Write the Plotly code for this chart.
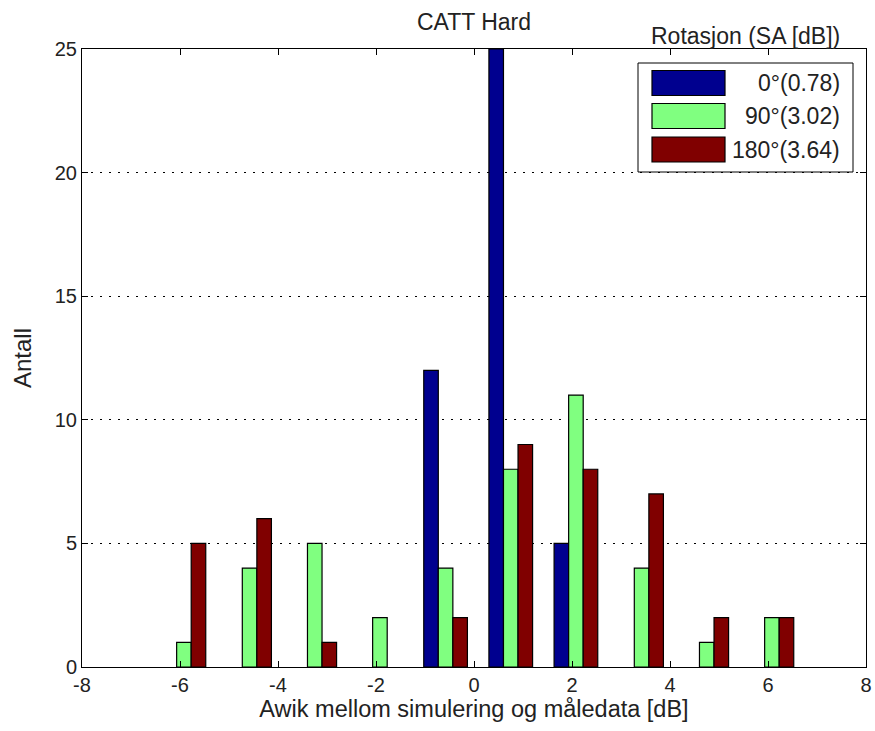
import plotly.graph_objects as go

# bin centres (dB) and counts per rotation
bin_centers = [-5.92, -4.58, -3.25, -1.92, -0.58, 0.75, 2.08, 3.42, 4.75, 6.08]
count_0 = [0, 0, 0, 0, 12, 25, 5, 0, 0, 0]
count_90 = [1, 4, 5, 2, 4, 8, 11, 4, 1, 2]
count_180 = [5, 6, 1, 0, 2, 9, 8, 7, 2, 2]

series_names = ["0°(0.78)", "90°(3.02)", "180°(3.64)"]
series_colors = ["#00008F", "#80FF80", "#800000"]

x_ticks = [-8, -6, -4, -2, 0, 2, 4, 6, 8]
x_tick_labels = ["-8", "-6", "-4", "-2", "0", "2", "4", "6", "8"]

FONT = "Liberation Sans, Arial, sans-serif"
TXT = "#222"
W, H = 875, 731
L, R, T, B = 82, 866, 49, 667  # plot area in pixels


def px_x(p):
    return (p - L) / (R - L)


def px_y(p):
    return (B - p) / (B - T)


fig = go.Figure()
for name, vals, col in zip(series_names, [count_0, count_90, count_180], series_colors):
    # empty bins are not drawn (no outline at zero)
    fig.add_trace(go.Bar(
        x=bin_centers, y=[v if v else None for v in vals], name=name,
        marker=dict(color=col, line=dict(color="black", width=1.2)),
        showlegend=False,
    ))

axis_common = dict(
    showline=True, linecolor="black", linewidth=1, mirror="ticks",
    ticks="inside", ticklen=6, tickcolor="black",
    tickfont=dict(family=FONT, size=20, color=TXT),
    zeroline=False, automargin=False,
)

fig.update_layout(
    width=W, height=H,
    margin=dict(l=L, r=W - R, t=T, b=H - B),
    paper_bgcolor="white", plot_bgcolor="white",
    barmode="group", bargap=0.33, bargroupgap=0,
    font=dict(family=FONT, size=23, color=TXT),
    title=dict(text="CATT Hard", x=0.5, xref="paper", xanchor="center",
               y=1 - 22 / H, yanchor="middle",
               font=dict(family=FONT, size=23, color=TXT)),
    xaxis=dict(range=[-8, 8], tickvals=x_ticks, ticktext=x_tick_labels,
               showgrid=False,
               title=dict(text="Awik mellom simulering og måledata [dB]",
                          standoff=5, font=dict(size=23.5)),
               **axis_common),
    yaxis=dict(range=[0, 25], dtick=5, showgrid=True, gridcolor="black",
               griddash="2px,7px", gridwidth=1,
               title=dict(text="Antall", standoff=16, font=dict(size=24)),
               **axis_common),
)

# MATLAB-style legend: box with wide swatches, title above the box
fig.add_shape(type="rect", xref="paper", yref="paper",
              x0=px_x(638), x1=px_x(853), y0=px_y(172), y1=px_y(63),
              line=dict(color="black", width=1), fillcolor="white", layer="above")
swatch_mid = [83, 116, 149.5]
for name, col, yc in zip(series_names, series_colors, swatch_mid):
    fig.add_shape(type="rect", xref="paper", yref="paper",
                  x0=px_x(652), x1=px_x(725), y0=px_y(yc + 12.5), y1=px_y(yc - 12.5),
                  line=dict(color="black", width=1.2), fillcolor=col, layer="above")
    fig.add_annotation(text=name, xref="paper", yref="paper",
                       x=px_x(842), y=px_y(yc), xanchor="right", yanchor="middle",
                       showarrow=False, font=dict(family=FONT, size=23, color=TXT))
fig.add_annotation(text="Rotasjon (SA [dB])", xref="paper", yref="paper",
                   x=px_x(745), y=px_y(36), xanchor="center", yanchor="middle",
                   showarrow=False, font=dict(family=FONT, size=23, color=TXT))

# drop the default page margin so the figure sits at the window's corner
fig.write_html("out.html", config={"displayModeBar": False},
               post_script="document.body.style.margin='0';")
